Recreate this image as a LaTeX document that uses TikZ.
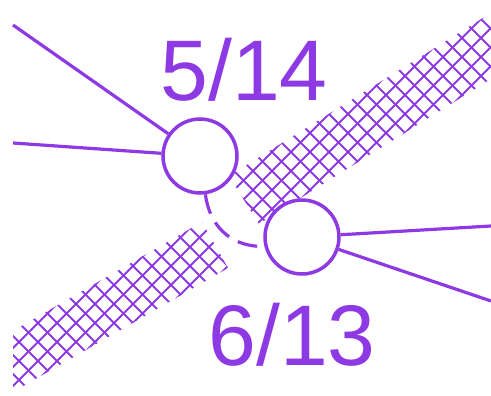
\documentclass[tikz,border=0pt]{standalone}
\usepackage{fontspec}
\setmainfont{Liberation Sans}
\begin{document}
\begin{tikzpicture}[x=1pt,y=-1pt,
  wire/.style={draw=jointcolor, line width=3.2pt},
  joint/.style={circle, draw=jointcolor, fill=white, line width=3.5pt, inner sep=0pt, minimum size=74pt},
  tag/.style={text=jointcolor, inner sep=0pt, anchor=base, font=\fontsize{86}{90}\selectfont},
  hatch/.style={jointcolor, line width=1.9pt}]
\definecolor{jointcolor}{RGB}{142,58,228}
\useasboundingbox (0,0) rectangle (491,396);
% Hatched band, lower part
\begin{scope}
  \clip (13,331) -- (202,222) -- (228,268) -- (13,392) -- cycle;
  \foreach \i in {-30,...,55} {
    \pgfmathsetmacro{\c}{\i*19}
    \draw[hatch] (\c,0) -- ({\c+500},500);
    \draw[hatch] (\c,0) -- ({\c-500},500);
  }
\end{scope}
% Hatched band, upper part
\begin{scope}
  \clip (229,176) -- (520,-5) -- (550,42) -- (259,224) -- cycle;
  \foreach \i in {-30,...,55} {
    \pgfmathsetmacro{\c}{\i*19+6}
    \draw[hatch] (\c,0) -- ({\c+500},500);
    \draw[hatch] (\c,0) -- ({\c-500},500);
  }
\end{scope}
% Joints
\node[joint] (j514) at (200,156) {};
\node[joint] (j613) at (302,237) {};
% Free ends of the wires
\coordinate (w1) at (13,25);
\coordinate (w2) at (13,143);
\coordinate (w3) at (491,226);
\coordinate (w4) at (491,301);
\draw[wire] (w1) -- (j514);
\draw[wire] (w2) -- (j514);
\draw[wire] (j613) -- (w3);
\draw[wire] (j613) -- (w4);
% Dashed link between the joints
\draw[wire, dash pattern=on 20pt off 10pt]
  (j514.-82) .. controls +(5,37) and +(-28,1) .. (j613.194);
% Labels
\node[tag] (t514) at (244,101) {5/14};
\node[tag] (t613) at (292,365) {6/13};
\end{tikzpicture}
\end{document}
